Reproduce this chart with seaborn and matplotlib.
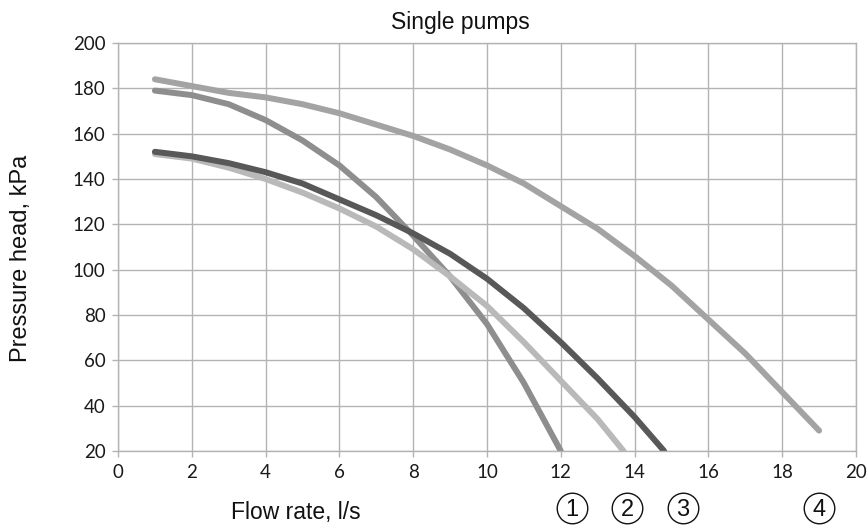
import matplotlib
matplotlib.use("Agg")
import matplotlib.pyplot as plt
import matplotlib.transforms as mtransforms
import seaborn as sns
import pandas as pd

# Data
x1 = [1, 2, 3, 4, 5, 6, 7, 8, 9, 10, 11, 12]
y1 = [179, 177, 173, 166, 157, 146, 132, 115, 97, 76, 50, 20]

x2 = [1, 2, 3, 4, 5, 6, 7, 8, 9, 10, 11, 12, 13, 13.7]
y2 = [151, 149, 145, 140, 134, 127, 119, 109, 97, 84, 68, 51, 34, 20]

x3 = [1, 2, 3, 4, 5, 6, 7, 8, 9, 10, 11, 12, 13, 14, 14.8]
y3 = [152, 150, 147, 143, 138, 131, 124, 116, 107, 96, 83, 68, 52, 35, 20]

x4 = [1, 2, 3, 4, 5, 6, 7, 8, 9, 10, 11, 12, 13, 14, 15, 16, 17, 18, 19]
y4 = [184, 181, 178, 176, 173, 169, 164, 159, 153, 146, 138, 128, 118, 106, 93, 78, 63, 46, 29]

pump_labels = ["1", "2", "3", "4"]
label_x = [12.3, 13.8, 15.3, 19.0]

x_ticks = list(range(0, 21, 2))
y_ticks = list(range(20, 201, 20))

sns.set_theme(style="white")
plt.rcParams["font.family"] = ["Liberation Sans", "DejaVu Sans"]

fig = plt.figure(figsize=(8.68, 5.25), dpi=100)
ax = fig.add_axes([118 / 868, 1 - 451 / 525, (856 - 118) / 868, (451 - 43) / 525])

series = [
    (x1, y1, "#8e8e8e"),
    (x2, y2, "#b9b9b9"),
    (x3, y3, "#585858"),
    (x4, y4, "#a3a3a3"),
]
order = [3, 0, 1, 2]
for i in order:
    xs, ys, c = series[i]
    df = pd.DataFrame({"x": xs, "y": ys})
    sns.lineplot(data=df, x="x", y="y", ax=ax, color=c, linewidth=4.3,
                 sort=False, estimator=None, solid_capstyle="round",
                 solid_joinstyle="round")

ax.set_xlim(0, 20)
ax.set_ylim(20, 200)
ax.set_xticks(x_ticks)
ax.set_yticks(y_ticks)
ax.grid(True, color="#b3b3b3", linewidth=1.0)
ax.set_axisbelow(True)
for s in ax.spines.values():
    s.set_color("#b3b3b3")
    s.set_linewidth(1.0)
ax.tick_params(axis="both", which="both", length=4, width=1, color="#b3b3b3",
               labelsize=13.5, labelcolor="#1a1a1a", pad=5, direction="out",
               bottom=True, left=True)
for lab in ax.get_xticklabels() + ax.get_yticklabels():
    lab.set_family(["Lato", "DejaVu Sans"])
ax.set_xlabel("")
ax.set_ylabel("")

fig.text(460 / 868, 1 - 23 / 525, "Single pumps", ha="center", va="center",
         fontsize=16.5, color="#111111")
fig.text(296 / 868, 1 - 512 / 525, "Flow rate, l/s", ha="center", va="center",
         fontsize=16.5, color="#111111")
fig.text(21 / 868, 1 - 258 / 525, "Pressure head, kPa", ha="center", va="center",
         rotation=90, fontsize=17, color="#111111")

# circled pump numbers below the axis
trans = mtransforms.blended_transform_factory(ax.transData, fig.transFigure)
circle_y = 1 - 508 / 525
ax.plot(label_x, [circle_y] * len(label_x), transform=trans, linestyle="none",
        marker="o", markersize=22, markerfacecolor="white",
        markeredgecolor="#111111", markeredgewidth=1.0, clip_on=False)
for lx, lab in zip(label_x, pump_labels):
    ax.text(lx, 1 - 516.5 / 525, lab, transform=trans, ha="center",
            va="baseline", fontsize=17, color="#111111", clip_on=False)

fig.savefig("out.png", dpi=100)
